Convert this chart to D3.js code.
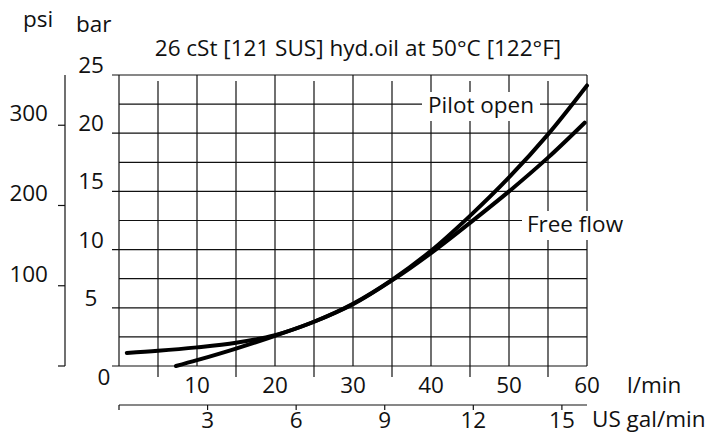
<!DOCTYPE html>
<html>
<head>
<meta charset="utf-8">
<script src="https://cdn.jsdelivr.net/npm/d3@7"></script>
<style>
  body { margin: 0; background: #fff; }
  text { font-family: "Open Sans", "Noto Sans", sans-serif; fill: #111; }
</style>
</head>
<body>
<script>
// Flow in l/min and pressure drop in bar
const pilotFlow = [1, 5, 10, 15, 20, 25, 30, 35, 40, 45, 50, 55, 60];
const pilotBar  = [1.12, 1.3, 1.6, 2.0, 2.65, 3.8, 5.35, 7.4, 9.9, 12.9, 16.2, 19.9, 24.1];
const freeFlow  = [7.3, 10, 15, 20, 25, 30, 35, 40, 45, 50, 55, 59.7];
const freeBar   = [0, 0.5, 1.5, 2.6, 3.8, 5.3, 7.35, 9.7, 12.3, 15.0, 17.9, 20.9];

const flowTicks = [10, 20, 30, 40, 50, 60];
const barTicks  = [5, 10, 15, 20, 25];
const psiTicks  = [0, 100, 200, 300];
const galTicks  = [3, 6, 9, 12, 15];

const W = 717, H = 434;
const svg = d3.select("body").append("svg")
    .attr("width", W)
    .attr("height", H);

// scales
const x = d3.scaleLinear().domain([0, 60]).range([119, 587]);
const y = d3.scaleLinear().domain([0, 25]).range([366, 75]);
const gal = d3.scaleLinear().domain([0, 60 / 3.78541]).range([119, 587]);
const psi = d3.scaleLinear().domain([0, 25 * 14.5038]).range([366, 75]);

const fs = 22.5;

// grid
const grid = svg.append("g").attr("stroke", "#111").attr("stroke-width", 1.2);
d3.range(0, 25.01, 2.5).forEach(v => {
  const major = v % 5 === 0;
  grid.append("line")
    .attr("x1", major ? x(0) - 7 : x(0)).attr("x2", x(60))
    .attr("y1", y(v)).attr("y2", y(v));
});
d3.range(0, 60.01, 5).forEach(v => {
  const odd = v % 10 !== 0;
  grid.append("line")
    .attr("x1", x(v)).attr("x2", x(v))
    .attr("y1", odd ? y(25) + 6 : y(25))
    .attr("y2", odd ? y(0) + 11 : y(0));
});

// psi axis (left)
const psiG = svg.append("g").attr("stroke", "#111").attr("stroke-width", 1.2);
psiG.append("line").attr("x1", 65).attr("x2", 65).attr("y1", psi(25 * 14.5038)).attr("y2", psi(0));
psiTicks.forEach(v => {
  psiG.append("line").attr("x1", 58).attr("x2", 65).attr("y1", psi(v)).attr("y2", psi(v));
});
svg.selectAll("text.psi")
  .data(psiTicks.filter(d => d > 0))
  .enter().append("text")
  .attr("class", "psi")
  .attr("x", 48).attr("y", d => psi(d) - 4)
  .attr("text-anchor", "end")
  .attr("font-size", fs)
  .text(d => d);

// bar labels
svg.selectAll("text.bar")
  .data(barTicks)
  .enter().append("text")
  .attr("class", "bar")
  .attr("x", 91).attr("y", d => y(d) - 2)
  .attr("text-anchor", "middle")
  .attr("font-size", fs)
  .text(d => d);
svg.append("text").attr("x", 104).attr("y", 385).attr("text-anchor", "middle")
  .attr("font-size", fs).text("0");

// flow labels
svg.selectAll("text.flow")
  .data(flowTicks)
  .enter().append("text")
  .attr("class", "flow")
  .attr("x", d => x(d)).attr("y", 393)
  .attr("text-anchor", "middle")
  .attr("font-size", fs)
  .text(d => d);
svg.append("text").attr("x", 627).attr("y", 393).attr("font-size", fs).text("l/min");

// US gal/min axis
const galG = svg.append("g").attr("stroke", "#111").attr("stroke-width", 1.2);
galG.append("line").attr("x1", gal(0)).attr("x2", x(60)).attr("y1", 405).attr("y2", 405);
[0].concat(galTicks).forEach(v => {
  galG.append("line").attr("x1", gal(v)).attr("x2", gal(v)).attr("y1", 405).attr("y2", 410);
});
svg.selectAll("text.gal")
  .data(galTicks)
  .enter().append("text")
  .attr("class", "gal")
  .attr("x", d => gal(d)).attr("y", 428)
  .attr("text-anchor", "middle")
  .attr("font-size", fs)
  .text(d => d);
svg.append("text").attr("x", 592).attr("y", 427).attr("font-size", fs).text("US gal/min");

// unit labels and title
svg.append("text").attr("x", 23).attr("y", 27).attr("font-size", fs).text("psi");
svg.append("text").attr("x", 76).attr("y", 32).attr("font-size", fs).text("bar");
svg.append("text").attr("x", 358).attr("y", 56).attr("text-anchor", "middle")
  .attr("font-size", fs).text("26 cSt [121 SUS] hyd.oil at 50°C [122°F]");

// curve labels with white boxes over the grid
function label(txt, cx, by, w) {
  svg.append("rect").attr("x", cx - w / 2).attr("y", by - 21).attr("width", w).attr("height", 29)
    .attr("fill", "#fff");
  svg.append("text").attr("x", cx).attr("y", by).attr("text-anchor", "middle")
    .attr("font-size", fs).text(txt);
}
label("Pilot open", 481, 113, 118);
label("Free flow", 575, 232, 106);

// curves
const line = d3.line()
  .x(d => x(d[0]))
  .y(d => y(d[1]))
  .curve(d3.curveCatmullRom.alpha(0.5));

svg.append("path")
  .datum(d3.zip(pilotFlow, pilotBar))
  .attr("d", line)
  .attr("fill", "none").attr("stroke", "#000").attr("stroke-width", 4)
  .attr("stroke-linecap", "round");
svg.append("path")
  .datum(d3.zip(freeFlow, freeBar))
  .attr("d", line)
  .attr("fill", "none").attr("stroke", "#000").attr("stroke-width", 4)
  .attr("stroke-linecap", "round");
</script>
</body>
</html>
